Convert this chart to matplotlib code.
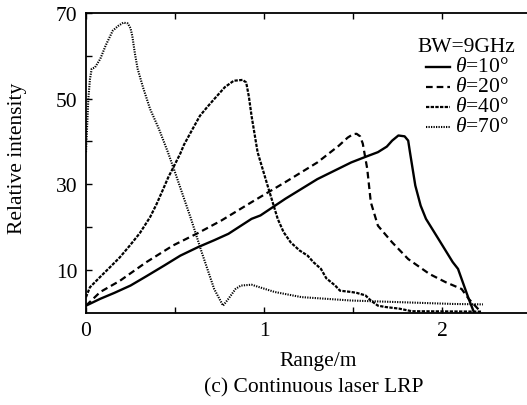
import matplotlib
matplotlib.use("Agg")
import matplotlib.pyplot as plt
from matplotlib.lines import Line2D

plt.rcParams['font.family'] = ['Liberation Serif', 'DejaVu Serif']
plt.rcParams['mathtext.fontset'] = 'custom'
plt.rcParams['mathtext.rm'] = 'Liberation Serif'
plt.rcParams['mathtext.it'] = 'Liberation Serif:italic'

# theta = 10 deg
x10 = [0, 0.08, 0.16, 0.25, 0.34, 0.44, 0.53, 0.63, 0.72, 0.80, 0.93, 0.98, 1.12, 1.30, 1.49, 1.57, 1.64, 1.69, 1.72, 1.755, 1.79, 1.81, 1.82, 1.85, 1.88, 1.91, 1.98, 2.06, 2.09, 2.15, 2.18]
y10 = [1.6, 3.2, 4.6, 6.3, 8.5, 11.0, 13.3, 15.3, 16.9, 18.4, 21.9, 22.7, 26.6, 31.2, 35.1, 36.4, 37.5, 38.8, 40.2, 41.4, 41.2, 40.2, 37.5, 29.7, 25.0, 21.9, 17.2, 11.8, 10.2, 3.2, 0.0]
# theta = 20 deg
x20 = [0, 0.08, 0.19, 0.34, 0.49, 0.63, 0.76, 0.93, 1.12, 1.30, 1.42, 1.47, 1.50, 1.52, 1.54, 1.555, 1.58, 1.60, 1.64, 1.72, 1.81, 1.93, 2.02, 2.11, 2.15, 2.21]
y20 = [1.6, 4.8, 7.4, 11.8, 15.7, 18.6, 21.5, 25.8, 30.5, 35.1, 39.0, 40.9, 41.7, 41.8, 41.2, 39.5, 33.6, 25.8, 20.3, 16.4, 12.5, 9.0, 7.1, 5.5, 3.2, 0.5]
# theta = 40 deg
x40 = [0, 0.022, 0.079, 0.135, 0.19, 0.247, 0.303, 0.36, 0.397, 0.434, 0.462, 0.50, 0.53, 0.55, 0.60, 0.64, 0.68, 0.72, 0.78, 0.83, 0.88, 0.90, 0.915, 0.93, 0.964, 1.02, 1.077, 1.11, 1.15, 1.20, 1.245, 1.277, 1.32, 1.35, 1.40, 1.427, 1.49, 1.52, 1.57, 1.60, 1.64, 1.68, 1.76, 1.83, 2.22]
y40 = [3.6, 5.9, 8.3, 10.6, 12.9, 15.7, 18.6, 22.3, 25.4, 28.9, 31.6, 34.7, 37.2, 39.2, 43.0, 46.0, 48.0, 49.9, 52.7, 54.2, 54.4, 53.8, 50.5, 46.0, 37.5, 29.7, 21.9, 18.8, 16.4, 14.5, 13.3, 11.8, 10.2, 8.0, 6.3, 5.1, 4.8, 4.6, 4.0, 2.8, 1.6, 1.3, 0.9, 0.3, 0.2]
# theta = 70 deg
x70 = [0, 0.013, 0.022, 0.032, 0.05, 0.08, 0.11, 0.15, 0.18, 0.21, 0.235, 0.25, 0.26, 0.275, 0.29, 0.32, 0.36, 0.41, 0.46, 0.50, 0.59, 0.65, 0.72, 0.77, 0.80, 0.84, 0.87, 0.93, 1.06, 1.21, 1.49, 2.06, 2.23]
y70 = [37.5, 49.9, 54.5, 57.0, 57.3, 59.3, 62.4, 65.9, 67.0, 67.8, 67.6, 66.5, 64.7, 60.5, 57.0, 52.7, 47.6, 42.9, 37.5, 32.8, 21.9, 14.1, 5.5, 1.6, 3.2, 5.5, 6.3, 6.5, 4.8, 3.6, 2.8, 2.0, 1.9]

labels = [r'$\theta$=10°', r'$\theta$=20°', r'$\theta$=40°', r'$\theta$=70°']
legend_title = 'BW=9GHz'
xticks = [0, 1, 2]
yticks = [10, 30, 50, 70]

FS = 15.5
W, H = 527, 406
fig = plt.figure(figsize=(W / 100, H / 100), dpi=100)
ax = fig.add_axes([86 / W, (H - 313.5) / H, (W - 86) / W, (313.5 - 14.2) / H])

styles = [
    dict(lw=1.7, ls='-'),
    dict(lw=1.6, dashes=(3.0, 1.8)),
    dict(lw=1.6, dashes=(1.5, 0.6)),
    dict(lw=1.5, dashes=(0.6, 0.6)),
]
series = [(x10, y10), (x20, y20), (x40, y40), (x70, y70)]
for (xs, ys), st in zip(series, styles):
    ax.plot(xs, ys, color='black', **st)

ax.set_xlim(0, (W - 86) / 178.0)
ax.set_ylim(0, 70)
ax.set_xticks(xticks)
ax.set_xticks([0.5, 1.5], minor=True)
ax.set_yticks(yticks)
ax.set_yticks([20, 40, 60], minor=True)
ax.tick_params(which='both', direction='in', top=True, length=4, width=1.0,
               labelsize=FS)
ax.tick_params(axis='x', pad=6)
ax.tick_params(axis='y', pad=6)
ax.spines['right'].set_visible(False)
for s in ['left', 'bottom', 'top']:
    ax.spines[s].set_linewidth(1.3)

fig.text(18 / W, 1 - 158 / H, 'Relative intensity', rotation=90, ha='center', va='center', fontsize=FS)
fig.text(318 / W, 1 - 362 / H, 'Range/m', ha='center', va='center', fontsize=FS)
fig.text(314 / W, 1 - 388 / H, '(c) Continuous laser LRP', ha='center', va='center', fontsize=FS)

# legend drawn manually
fig.text(466 / W, 1 - 47.5 / H, legend_title, ha='center', va='center', fontsize=FS)
rows = [67.7, 87.7, 107.7, 127.7]
for yy, lab, st in zip(rows, labels, styles):
    yf = 1 - yy / H
    fig.add_artist(Line2D([425.5 / W, 450 / W], [yf, yf], color='black',
                          transform=fig.transFigure, **st))
    fig.text(455 / W, yf, lab, ha='left', va='center', fontsize=FS)

fig.savefig('out.png', dpi=100)
